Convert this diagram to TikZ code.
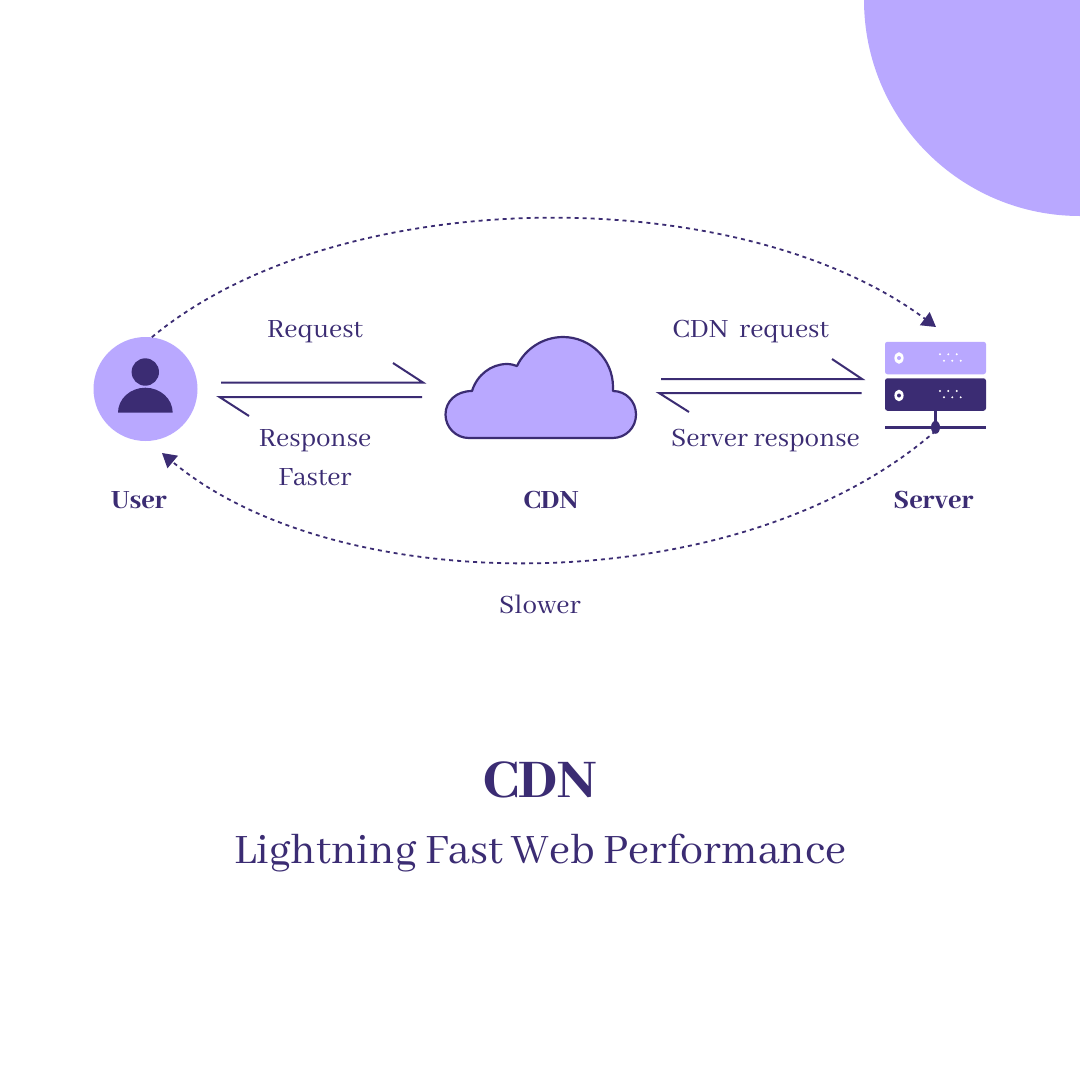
\documentclass[tikz,border=0pt]{standalone}
\usepackage{fontspec}
\setmainfont[BoldFont={Abhaya Libre ExtraBold}]{Abhaya Libre}
\usetikzlibrary{arrows.meta,shapes.geometric}
\definecolor{ink}{HTML}{3B2C73}
\definecolor{lilac}{HTML}{B9A8FF}
\tikzset{
  label text/.style={text=ink,font=\fontsize{29}{30}\selectfont,inner sep=0pt,align=center},
  name text/.style={text=ink,font=\fontsize{29}{30}\selectfont\bfseries,inner sep=0pt},
  flow/.style={draw=ink,line width=2pt,line join=miter},
  dotflow/.style={draw=ink,line width=1.8pt,dash pattern=on 4pt off 4pt,-{Triangle[length=14pt,width=16pt,fill=ink]}},
  rack/.style={rectangle,rounded corners=2.5pt,minimum width=101pt,minimum height=32.5pt,inner sep=0pt},
  pin/.style={fill=white,circle,inner sep=0pt,minimum size=2.2pt},
}
\begin{document}
\begin{tikzpicture}[x=1pt,y=-1pt]
\useasboundingbox (0,0) rectangle (1080,1080);
\fill[white] (0,0) rectangle (1080,1080);
% corner quarter disc
\fill[lilac] (864,0) .. controls (864,119.3) and (960.7,216) .. (1080,216) -- (1080,0) -- cycle;
% user
\node[circle,fill=lilac,minimum size=104pt,inner sep=0pt] (user) at (145.5,389) {};
\fill[ink] (145.3,372) circle[radius=13.7];
\fill[ink] (118,412.7) .. controls (118,398.9) and (130.2,387.7) .. (145.3,387.7) .. controls (160.4,387.7) and (172.7,398.9) .. (172.7,412.7) -- cycle;
% cloud
\draw[fill=lilac,draw=ink,line width=2.2pt,line join=round]
  (469,438) .. controls (456,438) and (445.5,427.5) .. (445.5,414.5)
  .. controls (445.5,401.5) and (456,391) .. (472,391)
  .. controls (477,375) and (491,364) .. (507,364)
  .. controls (511,364) and (514,365) .. (517,366)
  .. controls (525,349) and (543,337) .. (563,337)
  .. controls (590.6,337) and (613,359.4) .. (613,387) -- (613,391)
  .. controls (626,391) and (636,401.5) .. (636,414.5)
  .. controls (636,427.5) and (626,438) .. (612.5,438) -- cycle;
% server
\node[rack,fill=lilac] (rackA) at (935.5,358) {};
\node[rack,fill=ink] (rackB) at (935.5,394.5) {};
\coordinate (rail) at (935.5,427.3);
\draw[ink,line width=3pt] (rackB.south) -- (rail);
\draw[ink,line width=2.8pt] (885,427.3) -- (986,427.3);
\node[fill=ink,ellipse,inner sep=0pt,minimum width=9pt,minimum height=13pt] (hub) at (rail) {};
\foreach \y/\c in {358/lilac,395.5/ink}{
  \fill[white] (899,\y) ellipse[x radius=4.6,y radius=5.8];
  \fill[\c] (899,\y) circle[radius=2];
}
\foreach \x in {940,948.3,956.7}{
  \node[pin] at (\x,354.3) {}; \node[pin] at (\x+4,360.7) {};
  \node[pin] at (\x,391) {}; \node[pin] at (\x+4,397.3) {};
}
% harpoons
\coordinate (a1) at (221,382.5); \coordinate (a2) at (423,382.5); \coordinate (a3) at (393,363);
\coordinate (b1) at (422,397); \coordinate (b2) at (219.5,397); \coordinate (b3) at (249,416);
\coordinate (c1) at (661,379); \coordinate (c2) at (862,379); \coordinate (c3) at (832,359);
\coordinate (d1) at (861.5,393); \coordinate (d2) at (659,393); \coordinate (d3) at (689,412);
\draw[flow] (a1) -- (a2) -- (a3);
\draw[flow] (b1) -- (b2) -- (b3);
\draw[flow] (c1) -- (c2) -- (c3);
\draw[flow] (d1) -- (d2) -- (d3);
% dotted long routes
\coordinate (topEnd) at (936,327);
\coordinate (botEnd) at (162,453);
\draw[dotflow] (user.83) .. controls (340,181) and (740,181) .. (topEnd);
\draw[dotflow] ([yshift=3pt]hub.south) .. controls (740,602) and (340,602) .. (botEnd);
% labels
\node[label text] (tReq) at (315,332) {Request};
\node[label text] (tResp) at (315,441) {Response};
\node[label text] (tFast) at (315,477) {Faster};
\node[label text] (tCdnReq) at (750.5,332) {CDN\ \ request};
\node[label text] (tSrv) at (765.5,441) {Server response};
\node[label text] (tSlow) at (540,604) {Slower};
\node[name text] (nUser) at (139,500) {User};
\node[name text] (nCdn) at (551,500) {CDN};
\node[name text] (nServer) at (933.5,500) {Server};
\node[text=ink,font=\fontsize{60}{60}\selectfont\bfseries,inner sep=0pt] (title) at (540,780) {CDN};
\node[text=ink,font=\fontsize{46}{52}\selectfont,inner sep=0pt] (sub) at (540,853) {Lightning Fast Web Performance};
\end{tikzpicture}
\end{document}
